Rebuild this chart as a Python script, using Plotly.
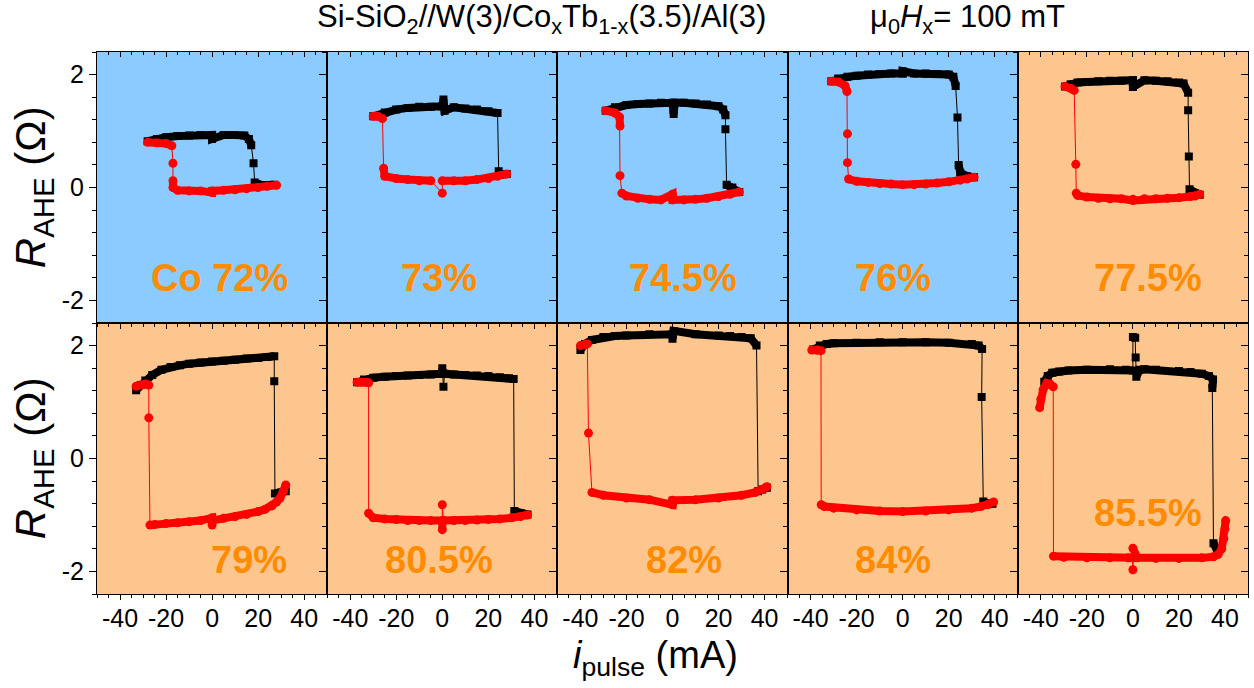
import plotly.graph_objects as go

# Current-induced switching loops: pulse current (mA) vs anomalous Hall resistance (Ohm)
# Black squares: sweep from negative to positive current; red circles: sweep back.

BLK72_X = [-28, -24, -20, -15, -10, -5, 0, 0, 5, 10, 14, 16, 17, 18, 18.5, 22, 27]
BLK72_Y = [0.82, 0.86, 0.89, 0.91, 0.92, 0.93, 0.93, 0.86, 0.93, 0.93, 0.92, 0.86, 0.75, 0.43, 0.09, 0.04, 0.05]
RED72_X = [28, 24, 20, 15, 10, 5, 0, 0, -5, -10, -15, -17, -17, -17, -17.5, -20, -24, -28]
RED72_Y = [0.04, 0.02, 0.0, -0.02, -0.04, -0.05, -0.06, -0.09, -0.06, -0.06, -0.05, 0.0, 0.12, 0.43, 0.74, 0.78, 0.79, 0.8]

BLK73_X = [-30, -25, -20, -15, -10, -5, 0, 0.5, 1, 5, 10, 15, 20, 24, 24.5, 25, 28]
BLK73_Y = [1.26, 1.33, 1.38, 1.41, 1.43, 1.43, 1.44, 1.56, 1.36, 1.42, 1.40, 1.38, 1.35, 1.32, 0.29, 0.22, 0.24]
RED73_X = [28, 24, 20, 15, 10, 5, 0, 0, -5, -10, -15, -20, -25, -25.5, -26, -28, -30]
RED73_Y = [0.24, 0.2, 0.16, 0.14, 0.12, 0.12, 0.12, -0.1, 0.12, 0.12, 0.14, 0.16, 0.2, 0.34, 1.22, 1.26, 1.26]

BLK745_X = [-29, -25, -20, -15, -10, -5, 0, 0.5, 1, 5, 10, 15, 20, 22, 23, 23, 23.5, 26, 29]
BLK745_Y = [1.36, 1.42, 1.46, 1.48, 1.49, 1.5, 1.5, 1.3, 1.5, 1.5, 1.49, 1.47, 1.44, 1.38, 1.28, 1.03, 0.05, 0.0, -0.08]
RED745_X = [29, 25, 20, 15, 10, 5, 0, 0, -5, -10, -15, -20, -22, -22.8, -22.8, -23, -25, -29]
RED745_Y = [-0.08, -0.12, -0.16, -0.19, -0.21, -0.22, -0.22, -0.12, -0.22, -0.21, -0.19, -0.15, -0.1, 0.21, 1.09, 1.25, 1.32, 1.36]

BLK76_X = [-31, -28, -24, -20, -15, -10, -5, 0, 0, 5, 10, 15, 20, 22, 23, 23.8, 24.3, 25, 28, 31]
BLK76_Y = [1.88, 1.93, 1.96, 1.98, 2.0, 2.01, 2.02, 2.02, 2.06, 2.02, 2.02, 2.01, 2.0, 1.96, 1.8, 1.24, 0.4, 0.26, 0.2, 0.18]
RED76_X = [31, 28, 25, 20, 15, 10, 5, 0, -5, -10, -15, -20, -23.5, -24, -24, -24.2, -25, -28, -31]
RED76_Y = [0.18, 0.15, 0.13, 0.1, 0.08, 0.06, 0.05, 0.05, 0.06, 0.07, 0.09, 0.11, 0.15, 0.44, 0.95, 1.7, 1.8, 1.87, 1.88]

BLK775_X = [-29.5, -27, -24, -20, -15, -10, -5, 0, 0, 5, 10, 15, 20, 22, 24, 24, 24.3, 24.6, 27, 29]
BLK775_Y = [1.79, 1.83, 1.86, 1.87, 1.88, 1.89, 1.89, 1.9, 1.78, 1.9, 1.89, 1.88, 1.86, 1.84, 1.68, 1.37, 0.55, -0.03, -0.1, -0.13]
RED775_X = [29, 27, 25, 20, 15, 10, 5, 0, 0, -5, -10, -15, -20, -24, -24.6, -24.8, -25.5, -27, -29.5]
RED775_Y = [-0.12, -0.15, -0.16, -0.18, -0.19, -0.2, -0.2, -0.21, -0.23, -0.2, -0.2, -0.19, -0.17, -0.14, -0.1, 0.41, 1.72, 1.76, 1.79]

BLK79_X = [-33, -31, -29, -26, -22, -18, -14, -10, -5, 0, 5, 10, 15, 20, 24, 27, 27, 27.3, 30, 32]
BLK79_Y = [1.21, 1.3, 1.38, 1.48, 1.57, 1.62, 1.65, 1.68, 1.7, 1.72, 1.73, 1.75, 1.77, 1.78, 1.8, 1.81, 1.37, -0.62, -0.6, -0.58]
RED79_X = [32, 31, 29.5, 28, 26, 23, 20, 15, 10, 5, 0, 0, 0, -5, -10, -15, -20, -25, -27, -27.5, -27.5, -29, -31, -33]
RED79_Y = [-0.47, -0.58, -0.7, -0.77, -0.84, -0.9, -0.94, -0.99, -1.03, -1.06, -1.1, -1.18, -1.05, -1.1, -1.12, -1.14, -1.15, -1.17, -1.18, 0.72, 1.3, 1.32, 1.3, 1.28]

BLK805_X = [-37, -34, -30, -25, -20, -15, -10, -5, 0, 0, 0.5, 1, 5, 10, 15, 20, 25, 29, 31, 31.3, 34, 37]
BLK805_Y = [1.35, 1.4, 1.43, 1.45, 1.46, 1.47, 1.48, 1.49, 1.5, 1.6, 1.27, 1.5, 1.49, 1.48, 1.47, 1.46, 1.44, 1.42, 1.41, -0.93, -0.97, -0.99]
RED805_X = [37, 34, 30, 25, 20, 15, 10, 5, 0.5, 0, 0, 0, -5, -10, -15, -20, -25, -30, -32, -32, -33, -35, -37]
RED805_Y = [-1.0, -1.03, -1.05, -1.07, -1.08, -1.09, -1.1, -1.1, -1.1, -0.82, -1.26, -1.1, -1.1, -1.1, -1.1, -1.08, -1.07, -1.05, -0.97, 1.34, 1.35, 1.35, 1.35]

BLK82_X = [-40, -38, -35, -30, -25, -20, -10, 0, 0, 0.5, 10, 20, 25, 30, 34, 36.5, 37.2, 39, 41]
BLK82_Y = [1.92, 2.03, 2.1, 2.15, 2.17, 2.18, 2.2, 2.2, 2.12, 2.26, 2.2, 2.18, 2.17, 2.15, 2.13, 2.0, -0.58, -0.55, -0.52]
RED82_X = [41, 39, 36, 30, 20, 10, 0, 0, -10, -20, -30, -35, -36.5, -37, -38, -40]
RED82_Y = [-0.5, -0.55, -0.6, -0.65, -0.7, -0.73, -0.74, -0.82, -0.73, -0.7, -0.65, -0.6, 0.45, 2.03, 2.02, 2.0]

BLK84_X = [-39, -36, -33, -30, -20, -10, 0, 10, 20, 30, 33, 34.5, 34.3, 35, 37, 39]
BLK84_Y = [1.93, 2.0, 2.03, 2.04, 2.05, 2.06, 2.06, 2.06, 2.05, 2.03, 2.0, 1.94, 1.09, -0.76, -0.8, -0.8]
RED84_X = [39.5, 37, 34, 30, 20, 10, 0, -10, -20, -30, -34, -35.4, -35.5, -37, -39.5]
RED84_Y = [-0.77, -0.82, -0.85, -0.88, -0.91, -0.93, -0.94, -0.93, -0.91, -0.88, -0.85, -0.82, 1.91, 1.92, 1.92]

BLK855_X = [-38.5, -37, -35, -32, -28, -20, -10, -3, 0, 0, 1, 1.2, 1.5, 3, 5, 10, 20, 25, 30, 33, 34.8, 34.5, 35, 36.5]
BLK855_Y = [1.36, 1.46, 1.52, 1.54, 1.56, 1.57, 1.58, 1.57, 1.56, 2.15, 2.14, 1.79, 1.45, 1.57, 1.58, 1.57, 1.55, 1.53, 1.5, 1.46, 1.4, 1.25, -1.5, -1.62]
RED855_X = [40.3, 40, 39.5, 38.6, 37, 35, 30, 20, 10, 2, 0, 0, 0, -2, -10, -20, -30, -34.5, -34.6, -36, -37.5, -39, -40, -40.5]
RED855_Y = [-1.1, -1.25, -1.42, -1.6, -1.7, -1.74, -1.76, -1.77, -1.77, -1.76, -1.59, -1.97, -1.76, -1.76, -1.76, -1.76, -1.75, -1.73, 1.27, 1.32, 1.33, 1.22, 1.05, 0.9]

BLK_X = [BLK72_X, BLK73_X, BLK745_X, BLK76_X, BLK775_X, BLK79_X, BLK805_X, BLK82_X, BLK84_X, BLK855_X]
BLK_Y = [BLK72_Y, BLK73_Y, BLK745_Y, BLK76_Y, BLK775_Y, BLK79_Y, BLK805_Y, BLK82_Y, BLK84_Y, BLK855_Y]
RED_X = [RED72_X, RED73_X, RED745_X, RED76_X, RED775_X, RED79_X, RED805_X, RED82_X, RED84_X, RED855_X]
RED_Y = [RED72_Y, RED73_Y, RED745_Y, RED76_Y, RED775_Y, RED79_Y, RED805_Y, RED82_Y, RED84_Y, RED855_Y]

# Co content of each film and where its label sits (data coordinates)
LABELS = ["Co 72%", "73%", "74.5%", "76%", "77.5%", "79%", "80.5%", "82%", "84%", "85.5%"]
LABEL_X = [3, -1.3, 4.6, -4.3, 6.5, 16, -1.3, 4.8, -4.3, 6.5]
LABEL_Y = [-1.6, -1.6, -1.6, -1.6, -1.6, -1.79, -1.79, -1.79, -1.79, -0.97]
PANEL_BG = ["blue", "blue", "blue", "blue", "orange", "orange", "orange", "orange", "orange", "orange"]

X_TICKS = [-40, -20, 0, 20, 40]
X_TICKTEXT = ["-40", "-20", "0", "20", "40"]
Y_TICKS = [-2, 0, 2]
Y_TICKTEXT = ["-2", "0", "2"]

BG_COLORS = {"blue": "#8ccbff", "orange": "#fcc68e"}
FONT = "Liberation Sans, Arial, sans-serif"
JUMP = 0.2  # resistance step (Ohm) above which two samples belong to a switching jump
FRAME_W = 1.2

NROWS, NCOLS = 2, 5


def ax_id(letter, n):
    return letter if n == 1 else f"{letter}{n}"


def dense_runs(xs, ys):
    """Split a sweep into its continuous (densely sampled) stretches."""
    bx, by = [], []
    cx, cy = [xs[0]], [ys[0]]
    for i in range(1, len(xs)):
        if abs(ys[i] - ys[i - 1]) > JUMP:
            if len(cx) > 1:
                bx += cx + [None]
                by += cy + [None]
            cx, cy = [xs[i]], [ys[i]]
        else:
            cx.append(xs[i])
            cy.append(ys[i])
    if len(cx) > 1:
        bx += cx
        by += cy
    return bx, by


fig = go.Figure()
layout = {}
shapes = []
annotations = []

for k in range(1, NROWS * NCOLS + 1):
    r = (k - 1) // NCOLS
    c = (k - 1) % NCOLS
    xd = [c / NCOLS, (c + 1) / NCOLS]
    yd = [1 - (r + 1) / NROWS, 1 - r / NROWS]
    xa, ya = ax_id("x", k), ax_id("y", k)
    xo, yo = ax_id("x", k + 10), ax_id("y", k + 10)
    bottom_row = r == NROWS - 1
    left_col = c == 0

    layout[f"xaxis{k}"] = dict(
        domain=xd, anchor=ya, range=[-50, 50], tickmode="array", tickvals=X_TICKS,
        ticktext=X_TICKTEXT, showticklabels=bottom_row, ticks="outside", ticklen=5,
        tickwidth=1.2, tickcolor="black", ticklabelstandoff=-3,
        minor=dict(tickmode="linear", tick0=0, dtick=5, ticks="outside", ticklen=3,
                   tickwidth=1, tickcolor="black"),
        showline=True, linecolor="black", linewidth=FRAME_W, showgrid=False, zeroline=False,
        tickfont=dict(family=FONT, size=25, color="black"),
    )
    layout[f"yaxis{k}"] = dict(
        domain=yd, anchor=xa, range=[-2.4, 2.4], tickmode="array", tickvals=Y_TICKS,
        ticktext=Y_TICKTEXT, showticklabels=left_col, ticks="outside", ticklen=7,
        tickwidth=1.2, tickcolor="black",
        minor=dict(tickmode="linear", tick0=0, dtick=0.4, ticks="outside", ticklen=4,
                   tickwidth=1, tickcolor="black"),
        showline=True, linecolor="black", linewidth=FRAME_W, showgrid=False, zeroline=False,
        tickfont=dict(family=FONT, size=25, color="black"),
    )
    # mirrored frame: top and right axes with inward ticks
    layout[f"xaxis{k + 10}"] = dict(
        overlaying=xa, anchor=yo, side="top", range=[-50, 50], tickmode="array",
        tickvals=X_TICKS, showticklabels=False, ticks="inside", ticklen=5, tickwidth=1.2,
        tickcolor="black",
        minor=dict(tickmode="linear", tick0=0, dtick=5, ticks="inside", ticklen=3,
                   tickwidth=1, tickcolor="black"),
        showline=True, linecolor="black", linewidth=FRAME_W, showgrid=False, zeroline=False,
    )
    layout[f"yaxis{k + 10}"] = dict(
        overlaying=ya, anchor=xo, side="right", range=[-2.4, 2.4], tickmode="array",
        tickvals=Y_TICKS, showticklabels=False, ticks="inside", ticklen=7, tickwidth=1.2,
        tickcolor="black",
        minor=dict(tickmode="linear", tick0=0, dtick=0.4, ticks="inside", ticklen=4,
                   tickwidth=1, tickcolor="black"),
        showline=True, linecolor="black", linewidth=FRAME_W, showgrid=False, zeroline=False,
    )
    fig.add_trace(go.Scatter(x=[], y=[], xaxis=xo, yaxis=yo, showlegend=False,
                             hoverinfo="skip"))

    shapes.append(dict(type="rect", xref=f"{xa} domain", yref=f"{ya} domain",
                       x0=0, x1=1, y0=0, y1=1, layer="below", line=dict(width=0),
                       fillcolor=BG_COLORS[PANEL_BG[k - 1]]))

    for xs, ys, color, symbol, msize in (
        (BLK_X[k - 1], BLK_Y[k - 1], "black", "square", 8),
        (RED_X[k - 1], RED_Y[k - 1], "red", "circle", 9),
    ):
        bx, by = dense_runs(xs, ys)
        fig.add_trace(go.Scatter(x=bx, y=by, xaxis=xa, yaxis=ya, mode="lines",
                                 line=dict(color=color, width=8), showlegend=False,
                                 hoverinfo="skip"))
        fig.add_trace(go.Scatter(x=xs, y=ys, xaxis=xa, yaxis=ya, mode="lines+markers",
                                 line=dict(color=color, width=1),
                                 marker=dict(symbol=symbol, size=msize, color=color,
                                             line=dict(width=0)),
                                 showlegend=False))

    annotations.append(dict(x=LABEL_X[k - 1], y=LABEL_Y[k - 1], xref=xa, yref=ya,
                            text=f"<b>{LABELS[k - 1]}</b>", showarrow=False,
                            xanchor="center", yanchor="middle",
                            font=dict(family=FONT, size=38, color="#ff8c00")))

# figure headings and axis titles
annotations += [
    dict(x=0.3866, y=1.02, xref="paper", yref="paper", xanchor="center", yanchor="bottom",
         text="Si-SiO<sub>2</sub>//W(3)/Co<sub>x</sub>Tb<sub>1-x</sub>(3.5)/Al(3)",
         showarrow=False, font=dict(family=FONT, size=31, color="black")),
    dict(x=0.7559, y=1.02, xref="paper", yref="paper", xanchor="center", yanchor="bottom",
         text="\u03bc<sub>0</sub><i>H</i><sub>x</sub>= 100 mT",
         showarrow=False, font=dict(family=FONT, size=31, color="black")),
    dict(x=0.4848, y=-0.07, xref="paper", yref="paper", xanchor="center", yanchor="top",
         text="<i>i</i><sub>pulse</sub> (mA)", showarrow=False,
         font=dict(family=FONT, size=38, color="black")),
]
for yc in (0.75, 0.25):
    annotations.append(dict(x=-0.055, y=yc, xref="paper", yref="paper", xanchor="center",
                            yanchor="middle", textangle=-90,
                            text="<i>R</i><sub>AHE</sub> (\u03a9)", showarrow=False,
                            font=dict(family=FONT, size=42, color="black")))

fig.update_layout(
    width=1254, height=688,
    margin=dict(l=97, r=6, t=52, b=94),
    paper_bgcolor="white", plot_bgcolor="white",
    shapes=shapes, annotations=annotations,
    **layout,
)

fig.write_html("out.html")
